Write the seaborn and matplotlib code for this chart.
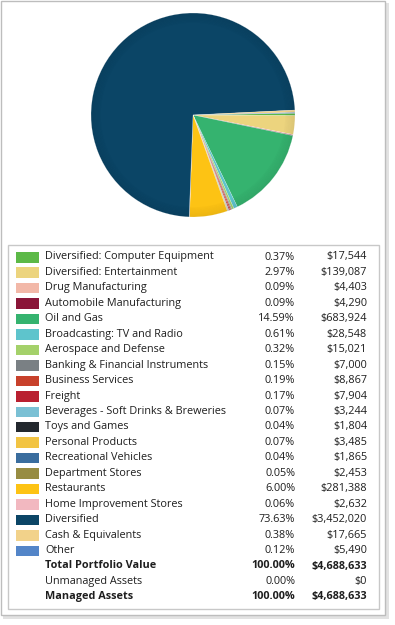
import matplotlib
matplotlib.use("Agg")
import matplotlib.pyplot as plt
import matplotlib.patches as mpatches
import seaborn as sns

sns.set_theme(style="white")
plt.rcParams['font.family'] = ['Open Sans', 'DejaVu Sans']

# Holdings by sector
sectors = [
    "Diversified: Computer Equipment", "Diversified: Entertainment", "Drug Manufacturing",
    "Automobile Manufacturing", "Oil and Gas", "Broadcasting: TV and Radio",
    "Aerospace and Defense", "Banking & Financial Instruments", "Business Services",
    "Freight", "Beverages - Soft Drinks & Breweries", "Toys and Games",
    "Personal Products", "Recreational Vehicles", "Department Stores", "Restaurants",
    "Home Improvement Stores", "Diversified", "Cash & Equivalents", "Other",
]
values = [17544, 139087, 4403, 4290, 683924, 28548, 15021, 7000, 8867, 7904,
          3244, 1804, 3485, 1865, 2453, 281388, 2632, 3452020, 17665, 5490]
pct_labels = ["0.37%", "2.97%", "0.09%", "0.09%", "14.59%", "0.61%", "0.32%", "0.15%",
              "0.19%", "0.17%", "0.07%", "0.04%", "0.07%", "0.04%", "0.05%", "6.00%",
              "0.06%", "73.63%", "0.38%", "0.12%"]
value_labels = ["$17,544", "$139,087", "$4,403", "$4,290", "$683,924", "$28,548",
                "$15,021", "$7,000", "$8,867", "$7,904", "$3,244", "$1,804", "$3,485",
                "$1,865", "$2,453", "$281,388", "$2,632", "$3,452,020", "$17,665", "$5,490"]
colors = ["#5cb947", "#ecd47e", "#f2b8a8", "#8a1538", "#35b36f", "#5ec4cc", "#a4d16a",
          "#7a8084", "#c8412b", "#b92030", "#7ac0d4", "#23282e", "#f2c443", "#3a6d9e",
          "#978c42", "#fdc314", "#f2b8c0", "#0b4566", "#f2d28a", "#5385c8"]

summary_names = ["Total Portfolio Value", "Unmanaged Assets", "Managed Assets"]
summary_pcts = ["100.00%", "0.00%", "100.00%"]
summary_values = ["$4,688,633", "$0", "$4,688,633"]
summary_bold = [True, False, True]

W, H = 395, 625
fig = plt.figure(figsize=(W / 100, H / 100), dpi=100)
fig.patch.set_facecolor("white")

# background axes in pixel units for frames and the legend table
bg = fig.add_axes([0, 0, 1, 1])
bg.set_xlim(0, W)
bg.set_ylim(H, 0)
bg.axis("off")

# drop shadow + outer frame
bg.add_patch(mpatches.Rectangle((3, 3), 386, 616, facecolor="#e2e2e2", edgecolor="none"))
bg.add_patch(mpatches.Rectangle((0.5, 0.5), 384, 614, facecolor="white", edgecolor="#bdbdbd", lw=1))
# legend box
bg.add_patch(mpatches.Rectangle((7.5, 244.5), 371, 364, facecolor="white", edgecolor="#c8c8c8", lw=1))

# pie
cx, cy, r = 193, 115, 103
pax = fig.add_axes([(cx - r) / W, 1 - (cy + r) / H, 2 * r / W, 2 * r / H])
pax.pie(values, colors=colors, startangle=1, counterclock=False,
        wedgeprops=dict(linewidth=0.3, edgecolor=(1, 1, 1, 0.4)))
# soft edge shading
for k in range(8):
    rad = 1.0 - k * 0.012
    pax.add_patch(mpatches.Wedge((0, 0), rad, 0, 360, width=0.012,
                                 facecolor="black", edgecolor="none", alpha=0.055 * (8 - k) / 8 + 0.01))
pax.set_xlim(-1.01, 1.01)
pax.set_ylim(-1.01, 1.01)
pax.set_aspect("equal")
pax.axis("off")

# legend table rows
y0, step = 257, 15.45
fs = 7.8
txt = "#1e1e1e"
for i, (name, p, v, c) in enumerate(zip(sectors, pct_labels, value_labels, colors)):
    y = y0 + i * step
    bg.add_patch(mpatches.Rectangle((16, y - 5), 23, 10.5, facecolor=c, edgecolor="none"))
    bg.text(45, y, name, fontsize=fs, va="center", ha="left", color=txt)
    bg.text(295, y, p, fontsize=fs, va="center", ha="right", color=txt)
    bg.text(367, y, v, fontsize=fs, va="center", ha="right", color=txt)

for j, (name, p, v, b) in enumerate(zip(summary_names, summary_pcts, summary_values, summary_bold)):
    y = y0 + (len(sectors) + j) * step
    wt = "bold" if b else "normal"
    bg.text(45, y, name, fontsize=fs, va="center", ha="left", color=txt, fontweight=wt)
    bg.text(295, y, p, fontsize=fs, va="center", ha="right", color=txt, fontweight=wt)
    bg.text(367, y, v, fontsize=fs, va="center", ha="right", color=txt, fontweight=wt)

plt.savefig("out.png", dpi=100)
